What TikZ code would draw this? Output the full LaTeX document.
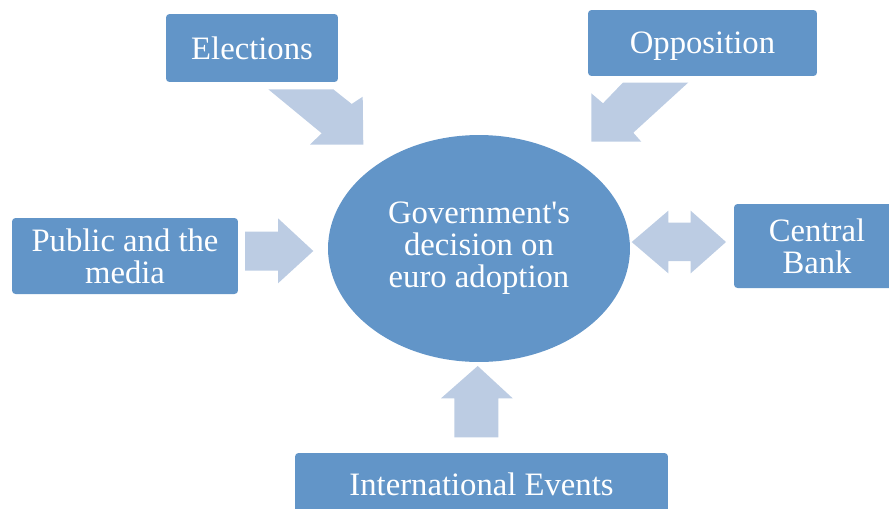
\documentclass[tikz,border=0pt]{standalone}
\usepackage{fontspec}
\setmainfont{Liberation Serif}[Ligatures=TeXOff]
\usetikzlibrary{shapes.geometric}

\definecolor{boxblue}{RGB}{98,149,200}
\definecolor{arrowblue}{RGB}{188,204,227}

\tikzset{
  factor/.style={rectangle, rounded corners=2pt, fill=boxblue, text=white,
    align=center, inner sep=0pt, text depth=0pt, font=\fontsize{18.6}{18.1}\selectfont},
  govt/.style={ellipse, fill=boxblue, text=white, align=center, inner sep=0pt,
    minimum width=6.04cm, minimum height=4.54cm, font=\fontsize{18.6}{18.2}\selectfont},
  blockarrow/.style={fill=arrowblue}
}

\begin{document}
\begin{tikzpicture}[x=0.02cm, y=-0.02cm]
        \useasboundingbox (0,0) rectangle (889,508);
        \clip (0,0) rectangle (889,508);

        % centre
        \node[govt] (gov) at (479,248.5) {Government's\\decision on\\euro adoption};

        % influences
        \node[factor, minimum width=3.44cm, minimum height=1.36cm] (elect) at (252,48) {Elections};
        \node[factor, minimum width=4.58cm, minimum height=1.32cm] (oppos) at (702.5,43) {Opposition};
        \node[factor, minimum width=4.52cm, minimum height=1.52cm] (public) at (125,256) {Public and the\\media};
        \node[factor, minimum width=3.32cm, minimum height=1.68cm] (bank) at (817,246) {Central\\Bank};
        \node[factor, minimum width=7.46cm, minimum height=1.24cm] (intl) at (481.5,484) {International Events};

        % block arrows
        \fill[blockarrow] (268.3,89.3) -- (333.3,89.3) -- (351.7,104) -- (362.7,96.7)
            -- (363.3,144.5) -- (310,144.5) -- (321.7,133.3) -- cycle;
        \fill[blockarrow] (623,82.5) -- (688.3,82.5) -- (633.3,132.7) -- (641.3,141.7)
            -- (591.3,141.7) -- (591.3,93.3) -- (603,103.3) -- cycle;
        \fill[blockarrow] (245,231.7) -- (278,231.7) -- (278,218.3) -- (313.3,251)
            -- (278,283.3) -- (278,270.7) -- (245,270.7) -- cycle;
        \fill[blockarrow] (631.7,242) -- (668.3,210.7) -- (668.3,222.7) -- (690.7,222.7)
            -- (690.7,210.7) -- (726,242) -- (690.7,273.3) -- (690.7,261)
            -- (668.3,261) -- (668.3,273.3) -- cycle;
        \fill[blockarrow] (477.7,366) -- (512.7,398.3) -- (498.3,398.3) -- (498.3,437.3)
            -- (454.3,437.3) -- (454.3,398.3) -- (441,398.3) -- cycle;
\end{tikzpicture}
\end{document}
